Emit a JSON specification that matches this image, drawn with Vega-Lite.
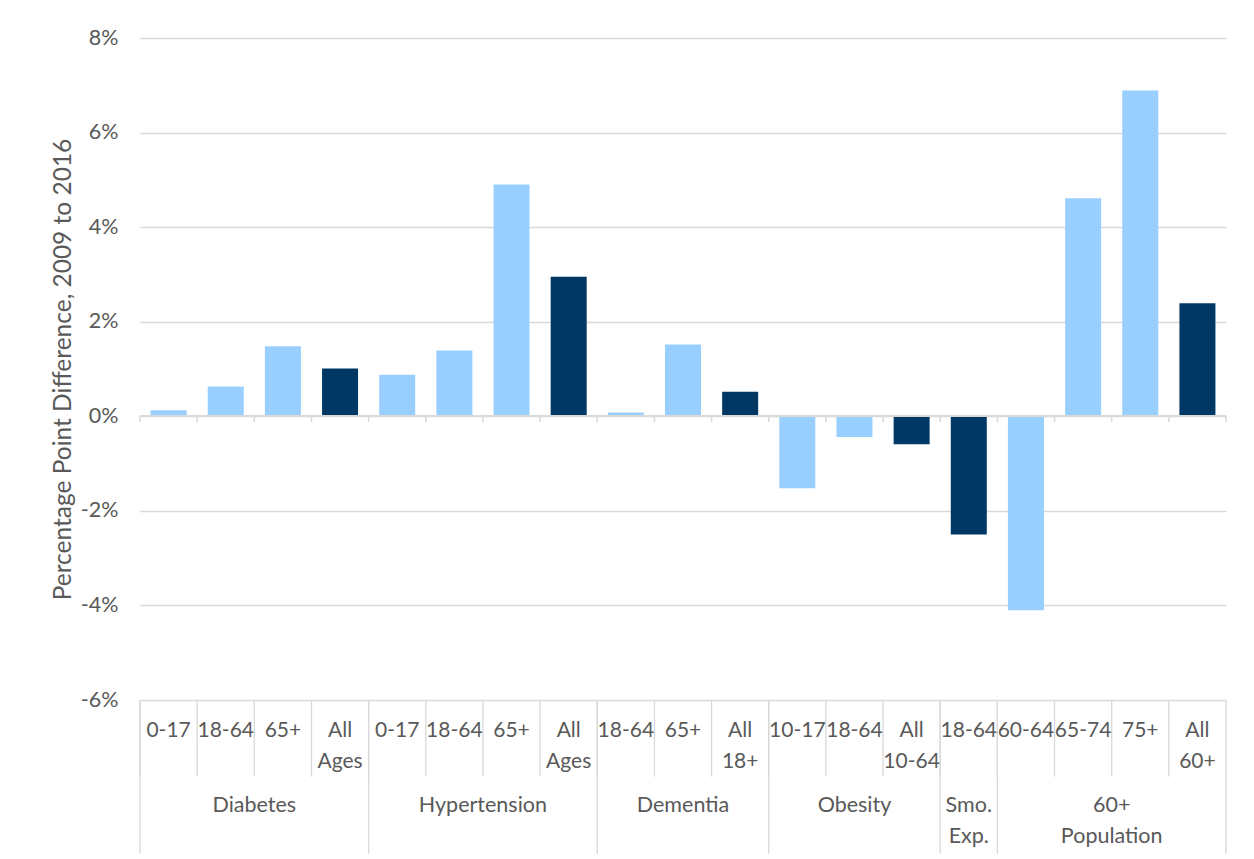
{
  "$schema": "https://vega.github.io/schema/vega-lite/v6.json",
  "width": 1086,
  "height": 662,
  "autosize": {"type": "none"},
  "padding": {"left": 140, "top": 38, "right": 28, "bottom": 159},
  "background": "white",
  "config": {"view": {"stroke": null}, "font": "Lato", "text": {"font": "Lato"}},
  "data": {
    "values": [
      {"group": "Diabetes", "age": "0-17", "value": 0.13},
      {"group": "Diabetes", "age": "18-64", "value": 0.63},
      {"group": "Diabetes", "age": "65+", "value": 1.48},
      {"group": "Diabetes", "age": "All Ages", "value": 1.01},
      {"group": "Hypertension", "age": "0-17", "value": 0.88},
      {"group": "Hypertension", "age": "18-64", "value": 1.39},
      {"group": "Hypertension", "age": "65+", "value": 4.9},
      {"group": "Hypertension", "age": "All Ages", "value": 2.95},
      {"group": "Dementia", "age": "18-64", "value": 0.08},
      {"group": "Dementia", "age": "65+", "value": 1.52},
      {"group": "Dementia", "age": "All 18+", "value": 0.52},
      {"group": "Obesity", "age": "10-17", "value": -1.52},
      {"group": "Obesity", "age": "18-64", "value": -0.44},
      {"group": "Obesity", "age": "All 10-64", "value": -0.59},
      {"group": "Smo. Exp.", "age": "18-64", "value": -2.5},
      {"group": "60+ Population", "age": "60-64", "value": -4.1},
      {"group": "60+ Population", "age": "65-74", "value": 4.61},
      {"group": "60+ Population", "age": "75+", "value": 6.89},
      {"group": "60+ Population", "age": "All 60+", "value": 2.39}
    ]
  },
  "transform": [
    {"calculate": "datum.group + '|' + datum.age", "as": "key"},
    {"window": [{"op": "row_number", "as": "idx"}, {"op": "count", "as": "n"}], "groupby": ["group"], "frame": [null, null]}
  ],
  "layer": [
    {
      "mark": {"type": "bar", "width": {"band": 0.63}},
      "encoding": {
        "x": {"field": "key", "type": "nominal", "sort": null, "scale": {"paddingInner": 0, "paddingOuter": 0}, "axis": null},
        "y": {
          "field": "value", "type": "quantitative",
          "scale": {"domain": [-6, 8], "nice": false, "zero": false},
          "axis": {
            "values": [-6, -4, -2, 0, 2, 4, 6, 8],
            "labelExpr": "datum.value + '%'",
            "grid": true, "gridColor": "#d9d9d9", "gridWidth": 1.3,
            "ticks": false, "domain": false,
            "labelFontSize": 21.5, "labelColor": "#595959", "labelPadding": 22, "labelFont": "Lato",
            "title": "Percentage Point Difference, 2009 to 2016",
            "titleFontSize": 24.5, "titleFontWeight": "normal", "titleColor": "#595959", "titlePadding": 5, "titleFont": "Lato"
          }
        },
        "color": {"condition": {"test": "indexof(datum.age, 'All') == 0 || datum.group == 'Smo. Exp.'", "value": "#003865"}, "value": "#99CFFF"}
      }
    },
    {
      "mark": {"type": "rule", "color": "#d9d9d9", "strokeWidth": 1.5},
      "encoding": {"y": {"datum": 0}}
    },
    {
      "mark": {"type": "rule", "color": "#d9d9d9", "strokeWidth": 1.5},
      "encoding": {
        "x": {"field": "key", "type": "nominal", "sort": null, "bandPosition": 0},
        "y": {"datum": 0},
        "y2": {"datum": -0.12}
      }
    },
    {
      "transform": [{"filter": "datum.group == '60+ Population' && datum.idx == datum.n"}],
      "mark": {"type": "rule", "color": "#d9d9d9", "strokeWidth": 1.5},
      "encoding": {
        "x": {"field": "key", "type": "nominal", "sort": null, "bandPosition": 1},
        "y": {"datum": 0},
        "y2": {"datum": -0.12}
      }
    },
    {
      "mark": {"type": "rule", "color": "#d9d9d9", "strokeWidth": 1.3},
      "encoding": {
        "x": {"field": "key", "type": "nominal", "sort": null, "bandPosition": 0},
        "y": {"datum": -6},
        "y2": {"datum": -7.62}
      }
    },
    {
      "transform": [{"filter": "datum.idx == 1"}],
      "mark": {"type": "rule", "color": "#d9d9d9", "strokeWidth": 1.3},
      "encoding": {
        "x": {"field": "key", "type": "nominal", "sort": null, "bandPosition": 0},
        "y": {"datum": -6},
        "y2": {"datum": -9.25}
      }
    },
    {
      "transform": [{"filter": "datum.group == '60+ Population' && datum.idx == datum.n"}],
      "mark": {"type": "rule", "color": "#d9d9d9", "strokeWidth": 1.3},
      "encoding": {
        "x": {"field": "key", "type": "nominal", "sort": null, "bandPosition": 1},
        "y": {"datum": -6},
        "y2": {"datum": -9.25}
      }
    },
    {
      "mark": {"type": "text", "lineBreak": " ", "baseline": "top", "fontSize": 21, "color": "#595959", "lineHeight": 31, "font": "Lato"},
      "encoding": {
        "x": {"field": "key", "type": "nominal", "sort": null, "bandPosition": 0.5},
        "y": {"datum": -6.42},
        "text": {"field": "age"}
      }
    },
    {
      "transform": [{"filter": "datum.n % 2 == 1 && datum.idx == (datum.n + 1) / 2"}],
      "mark": {"type": "text", "lineBreak": " ", "baseline": "top", "fontSize": 21.5, "color": "#595959", "lineHeight": 31, "font": "Lato"},
      "encoding": {
        "x": {"field": "key", "type": "nominal", "sort": null, "bandPosition": 0.5},
        "y": {"datum": -8.01},
        "text": {"field": "group"}
      }
    },
    {
      "transform": [{"filter": "datum.n % 2 == 0 && datum.idx == datum.n / 2 + 1"}],
      "mark": {"type": "text", "lineBreak": " ", "baseline": "top", "fontSize": 21.5, "color": "#595959", "lineHeight": 31, "font": "Lato"},
      "encoding": {
        "x": {"field": "key", "type": "nominal", "sort": null, "bandPosition": 0},
        "y": {"datum": -8.01},
        "text": {"field": "group"}
      }
    }
  ]
}
